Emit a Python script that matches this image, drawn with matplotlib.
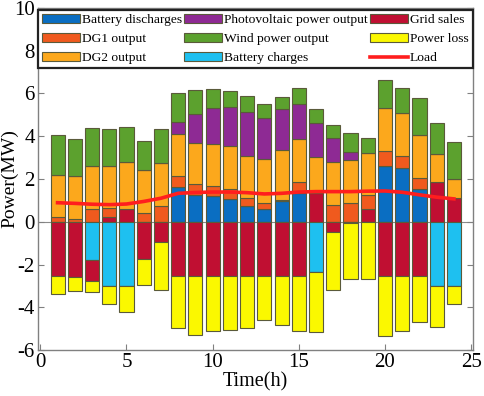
import numpy as np
import matplotlib.pyplot as plt

plt.rcParams['font.family'] = ['Liberation Serif', 'DejaVu Serif']
plt.rcParams['axes.unicode_minus'] = False

hours = np.arange(1, 25)

# positive side (MW)
battery_dis = [0, 0, 0, 0, 0, 0, 0, 1.64, 1.25, 1.2, 1.08, 0.73, 0.62, 0.97, 1.36, 0,
               0, 0, 0, 2.61, 2.5, 1.55, 0, 0]
dg1 = [0.22, 0.15, 0.62, 0.43, 0.0, 0.42, 0.73, 0.5, 0.5, 0.47, 0.47, 0.39, 0.27, 0.05, 0.5, 0,
       0.8, 0.89, 0.62, 0.7, 0.58, 0.51, 0, 0]
dg2 = [1.95, 1.99, 1.97, 1.97, 2.19, 2.0, 2.0, 1.98, 1.95, 1.96, 1.97, 1.96, 2.03, 2.32, 2.03, 1.67,
       2.0, 2.0, 2.0, 1.99, 2.0, 2.02, 1.31, 0.88]
pv = [0, 0, 0, 0, 0, 0, 0, 0.55, 1.33, 1.71, 1.87, 2.06, 1.91, 1.93, 1.64, 1.61,
      1.13, 0.37, 0, 0, 0, 0, 0, 0]
wind = [1.88, 1.72, 1.8, 1.72, 1.62, 1.38, 1.6, 1.33, 1.14, 0.86, 0.72, 0.75, 0.69, 0.56, 0.72, 0.62,
        0.59, 0.88, 0.71, 1.34, 1.19, 1.69, 1.45, 1.73]
# grid exchange: negative = sales, positive = purchase
grid = [-2.52, -2.58, -0.97, 0.21, 0.61, -1.72, -0.94, -2.52, -2.52, -2.52, -2.52, -2.52, -2.52, -2.52, -2.52, 1.36,
        -0.47, -0.06, 0.61, -2.52, -2.52, -2.52, 1.88, 1.12]
# negative side (MW)
battery_ch = [0, 0, -1.81, -3.0, -3.0, 0, 0, 0, 0, 0, 0, 0, 0, 0, 0, -2.34,
              0, 0, 0, 0, 0, 0, -3.02, -3.02]
loss = [-0.88, -0.67, -0.52, -0.83, -1.2, -1.22, -2.26, -2.45, -2.76, -2.61, -2.53, -2.45, -2.06, -2.32, -2.61, -2.82,
        -2.73, -2.61, -2.67, -2.84, -2.57, -2.17, -1.92, -0.81]
load = [0.89, 0.86, 0.82, 0.8, 0.83, 0.95, 1.1, 1.33, 1.37, 1.39, 1.39, 1.36, 1.3, 1.33, 1.39, 1.41,
        1.41, 1.41, 1.43, 1.44, 1.38, 1.26, 1.15, 1.07]

c_bd = '#0a6ec2'
c_dg1 = '#f05a1e'
c_dg2 = '#fca81c'
c_pv = '#8e2a94'
c_wind = '#5ca12e'
c_bc = '#1ec0f0'
c_grid = '#c00f32'
c_loss = '#fbf800'
c_load = '#ff1e1e'

fig = plt.figure(figsize=(4.84, 3.96), dpi=100)
ax = fig.add_axes([0.078, 0.116, 0.899, 0.864])

w = 0.82
kw = dict(width=w, edgecolor='#5a5a3a', linewidth=0.8, zorder=2)

grid = np.array(grid)
grid_pos = np.clip(grid, 0, None)
grid_neg = np.clip(grid, None, 0)

# positive stack
bottom = np.zeros(24)
h_bd = ax.bar(hours, battery_dis, bottom=bottom, color=c_bd, **kw)
bottom += battery_dis
h_grid = ax.bar(hours, grid_pos, bottom=bottom, color=c_grid, **kw)
bottom += grid_pos
h_dg1 = ax.bar(hours, dg1, bottom=bottom, color=c_dg1, **kw)
bottom += dg1
h_dg2 = ax.bar(hours, dg2, bottom=bottom, color=c_dg2, **kw)
bottom += dg2
h_pv = ax.bar(hours, pv, bottom=bottom, color=c_pv, **kw)
bottom += pv
h_wind = ax.bar(hours, wind, bottom=bottom, color=c_wind, **kw)

# negative stack
nb = np.zeros(24)
h_bc = ax.bar(hours, battery_ch, bottom=nb, color=c_bc, **kw)
nb += battery_ch
ax.bar(hours, grid_neg, bottom=nb, color=c_grid, **kw)
nb += grid_neg
h_loss = ax.bar(hours, loss, bottom=nb, color=c_loss, **kw)

h_load, = ax.plot(hours, load, color=c_load, linewidth=2.6, zorder=4)

ax.axhline(0, color='#8a8a8a', linewidth=0.8, zorder=1)

ax.set_xlim(-0.15, 25.1)
ax.set_ylim(-6, 10)
ax.set_xticks([0, 5, 10, 15, 20, 25])
ax.set_yticks(np.arange(-6, 11, 2))
ax.tick_params(direction='in', length=4, color='#808080', labelsize=15,
               top=True, right=True, pad=2)
for s in ax.spines.values():
    s.set_color('#808080')
    s.set_linewidth(1.0)

ax.set_xlabel('Time(h)', fontsize=14.5, labelpad=0)
ax.set_ylabel('Power(MW)', fontsize=14, labelpad=0)
ax.yaxis.set_label_coords(-0.045, 0.5)

handles = [h_bd, h_dg1, h_dg2, h_pv, h_wind, h_bc, h_grid, h_loss, h_load]
labels = ['Battery discharges', 'DG1 output', 'DG2 output',
          'Photovoltaic power output', 'Wind power output', 'Battery charges',
          'Grid sales', 'Power loss', 'Load']
leg = ax.legend(handles, labels, ncol=3, loc='upper left', mode='expand',
                bbox_to_anchor=(0.0, 0.0, 1.0, 0.995), fontsize=9.7,
                handlelength=2.8, handletextpad=0.15, labelspacing=0.5,
                borderpad=0.3, borderaxespad=0.0, columnspacing=0.3,
                fancybox=False, framealpha=1)
leg.get_frame().set_edgecolor('#222222')
leg.get_frame().set_linewidth(1.6)
leg.set_zorder(5)

fig.savefig('out.png', dpi=100)
